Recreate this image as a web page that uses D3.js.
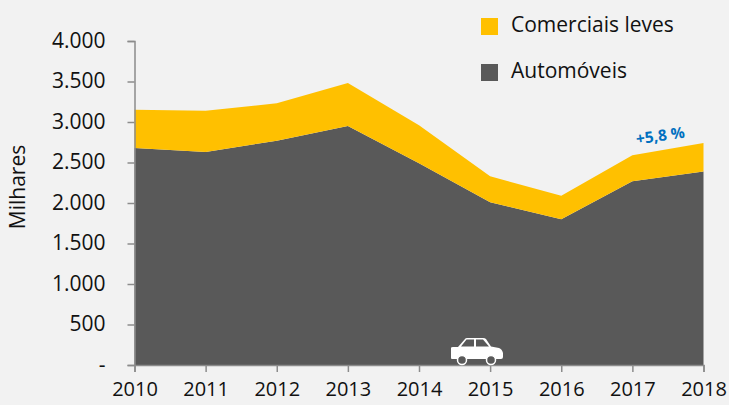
<!DOCTYPE html>
<html>
<head>
<meta charset="utf-8">
<script src="https://cdn.jsdelivr.net/npm/d3@7"></script>
<style>
  html, body { margin: 0; padding: 0; background: #f2f2f2; }
  svg { display: block; }
  text { font-family: "Open Sans", sans-serif; fill: #111; }
</style>
</head>
<body>
<div id="chart"></div>
<script>
const years = [2010, 2011, 2012, 2013, 2014, 2015, 2016, 2017, 2018];
const automoveis = [2680, 2630, 2770, 2950, 2490, 2010, 1800, 2270, 2390];
const comerciais = [470, 510, 460, 530, 470, 320, 290, 320, 350];
const yTicks = [0, 500, 1000, 1500, 2000, 2500, 3000, 3500, 4000];
const yLabels = ['-', '500', '1.000', '1.500', '2.000', '2.500', '3.000', '3.500', '4.000'];

const width = 729, height = 405;
const fontSize = 21;
const svg = d3.select('#chart').append('svg').attr('width', width).attr('height', height);

const x = d3.scaleLinear().domain([2010, 2018]).range([134.5, 703.5]);
const y = d3.scaleLinear().domain([0, 4000]).range([365, 41]);

const rows = years.map((year, i) => ({ year, automoveis: automoveis[i], comerciais: comerciais[i] }));
const stacked = d3.stack().keys(['automoveis', 'comerciais'])(rows);
const colors = { automoveis: '#595959', comerciais: '#ffc000' };

const area = d3.area()
  .x(d => x(d.data.year))
  .y0(d => y(d[0]))
  .y1(d => y(d[1]));

svg.selectAll('.layer')
  .data(stacked)
  .enter()
  .append('path')
  .attr('class', 'layer')
  .attr('d', area)
  .attr('fill', d => colors[d.key]);

const yAxis = d3.axisLeft(y)
  .tickValues(yTicks)
  .tickFormat((d, i) => yLabels[i])
  .tickSize(7)
  .tickPadding(22);

const xAxis = d3.axisBottom(x)
  .tickValues(years)
  .tickFormat(d3.format('d'))
  .tickSize(7)
  .tickPadding(10);

const gy = svg.append('g').attr('transform', `translate(${x(2010)},0)`).call(yAxis);
const gx = svg.append('g').attr('transform', `translate(0,${y(0)})`).call(xAxis);

[gy, gx].forEach(g => {
  g.selectAll('path, line').attr('stroke', '#8c8c8c').attr('stroke-width', 1.5);
  g.selectAll('text').attr('font-size', fontSize).style('font-family', '"Open Sans", sans-serif').attr('fill', '#111');
});
gy.selectAll('.tick text').attr('dy', '0.3em').attr('x', -29);
gx.selectAll('.tick text').attr('font-size', 20);

svg.append('text')
  .attr('transform', 'translate(25,187) rotate(-90)')
  .attr('text-anchor', 'middle')
  .attr('font-size', fontSize)
  .text('Milhares');

// legend
const legend = [
  { label: 'Comerciais leves', color: colors.comerciais, top: 18 },
  { label: 'Automóveis', color: colors.automoveis, top: 64 }
];
legend.forEach(l => {
  svg.append('rect').attr('x', 481).attr('y', l.top).attr('width', 17).attr('height', 17).attr('fill', l.color);
  svg.append('text').attr('x', 511).attr('y', l.top + 14).attr('font-size', fontSize).text(l.label);
});

// growth note
svg.append('text')
  .attr('transform', 'translate(661,141) rotate(-8)')
  .attr('text-anchor', 'middle')
  .attr('font-size', 15.5)
  .attr('font-weight', 700)
  .style('fill', '#0070c0')
  .text('+5,8 %');

// car icon
const car = svg.append('g').attr('transform', 'translate(450,337)');
car.append('path')
  .attr('d', 'M1,11 Q1,10 3,10 L8,10 L15,2 Q15.5,1 17,1 L33,1 Q35,1 36,2 L41,9.5 L49,11 Q52,12 53,16 L53,20 Q53,22 51,22 L2,22 Q1,22 1,21 Z')
  .attr('fill', '#fff');
car.append('path')
  .attr('d', 'M11,9.5 L16.5,2.5 L24,2.5 L24,9.5 Z M26,2.5 L33,2.5 L39,9.5 L26,9.5 Z')
  .attr('fill', '#595959');
[12, 41].forEach(cx => {
  car.append('circle').attr('cx', cx).attr('cy', 23).attr('r', 4.5).attr('fill', '#595959').attr('stroke', '#fff').attr('stroke-width', 1.5);
});
</script>
</body>
</html>
